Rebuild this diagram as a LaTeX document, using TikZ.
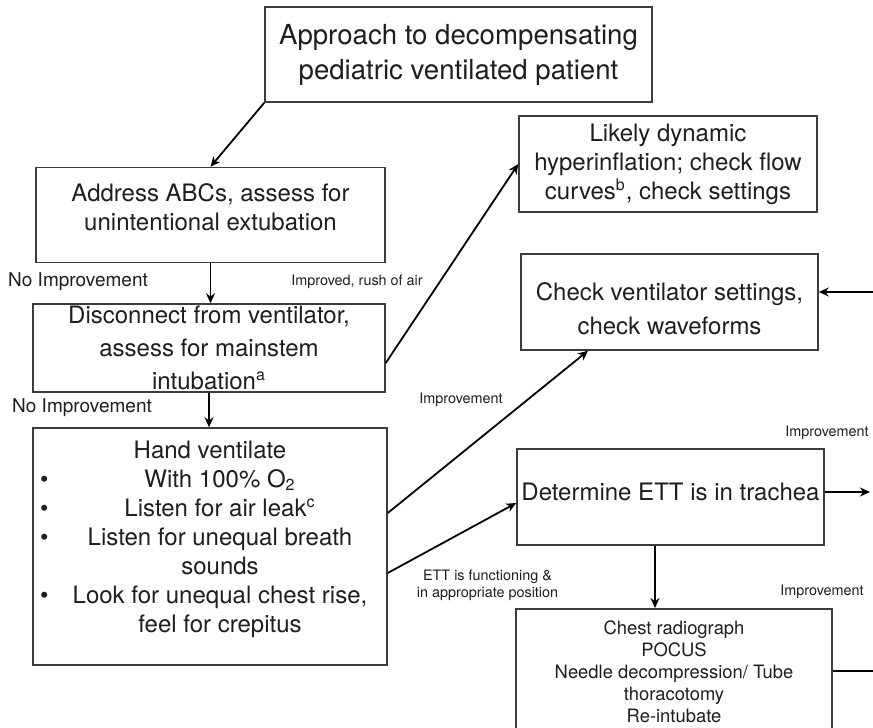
\documentclass[tikz,border=0pt]{standalone}
\usepackage{fontspec}
\setmainfont{TeX Gyre Heros}
\usetikzlibrary{arrows.meta}

\definecolor{boxgray}{HTML}{3C3C3C}
\definecolor{txtgray}{HTML}{1E1E1E}

\tikzset{
  box/.style={draw=boxgray, line width=0.75pt, align=center, inner sep=1pt, text=txtgray,
    font=\fontsize{12}{14.5}\selectfont},
  arr/.style={-{Stealth[length=5pt,width=4.5pt]}, line width=0.9pt},
  lbl/.style={text=txtgray, inner sep=0pt, align=center, font=\fontsize{7.2}{8.5}\selectfont},
  biglbl/.style={text=txtgray, inner sep=0pt, font=\fontsize{9.5}{11}\selectfont},
}

% one bullet line of the hand ventilation box
\newcommand{\bul}[1]{\makebox[10pt][l]{\textbullet}\makebox[160pt]{#1}}

\begin{document}
\begin{tikzpicture}[x=0.5pt,y=-0.5pt]
  \clip (0,0) rectangle (873,728);
  \fill[white] (0,0) rectangle (873,728);

  % boxes
  \node (title) at (458.5,54.5) [box, minimum width=193.5pt, minimum height=47.5pt,
    font=\fontsize{13.8}{17.5}\selectfont] {Approach to decompensating\\pediatric ventilated patient};
  \node (abc) at (210.5,215) [box, minimum width=174.5pt, minimum height=47.5pt]
    {Address ABCs, assess for\\unintentional extubation\rule[-8pt]{0pt}{1pt}};
  \node (disc) at (209,348) [box, minimum width=176pt, minimum height=44pt,
    font=\fontsize{12}{16.5}\selectfont]
    {Disconnect from ventilator,\\assess for mainstem\\intubation\textsuperscript{a}};
  \node (hand) at (210,546.5) [box, minimum width=177pt, minimum height=118.5pt]
    {Hand ventilate\\
     \bul{With 100\% O\textsubscript{2}}\\
     \bul{Listen for air leak\textsuperscript{c}}\\
     \bul{Listen for unequal breath}\\
     \makebox[10pt]{}\makebox[160pt]{sounds}\\
     \bul{Look for unequal chest rise,}\\
     \makebox[10pt]{}\makebox[160pt]{feel for crepitus}\rule[-10pt]{0pt}{1pt}};
  \node (likely) at (668,164) [box, minimum width=149pt, minimum height=48pt]
    {Likely dynamic\\hyperinflation; check flow\\curves\textsuperscript{b}, check settings};
  \node (vent) at (669.5,302) [box, minimum width=148.5pt, minimum height=48pt,
    font=\fontsize{12}{17}\selectfont]
    {\rule{0pt}{15.6pt}Check ventilator settings,\\check waveforms};
  \node (ett) at (670.5,497) [box, minimum width=153.5pt, minimum height=48pt]
    {Determine ETT is in trachea\rule[-5pt]{0pt}{1pt}};
  \node (tests) at (674,608) [box, anchor=north, minimum width=158pt, minimum height=63pt,
    font=\fontsize{9.2}{11}\selectfont]
    {Chest radiograph\\POCUS\\Needle decompression/ Tube\\thoracotomy\\Re-intubate};

  % free ends at the right edge
  \coordinate (inA) at (874,292);
  \coordinate (outA) at (870,492);
  \coordinate (outB) at (874,671);
  \coordinate (ettS) at ([xshift=-7.75pt]ett.south);

  % connectors
  \draw[arr] (title.south west) -- (abc.north);
  \draw[arr] (abc.south) -- (abc.south |- disc.north);
  \draw[arr] (disc.south) -- (disc.south |- hand.north);
  \draw[arr] ([yshift=-7.5pt]disc.east) -- (likely.west);
  \draw[arr] ([yshift=16.75pt]hand.east) -- ([xshift=-40.75pt]vent.south);
  \draw[arr] ([yshift=-13.25pt]hand.east) -- ([yshift=-3pt]ett.west);
  \draw[arr] (inA) -- (inA -| vent.east);
  \draw[arr] (ett.east |- outA) -- (outA);
  \draw[arr] (ettS) -- (ettS |- tests.north);
  \draw[line width=0.9pt] (tests.east |- outB) -- (outB);

  % labels
  \node (noimpA) at (78,282) [biglbl] {No Improvement};
  \node (noimpB) at (82,408) [biglbl] {No Improvement};
  \node (rush) at (357,282) [lbl] {Improved, rush of air};
  \node (impA) at (461,400) [lbl] {Improvement};
  \node (impB) at (827,433) [lbl] {Improvement};
  \node (impC) at (822,592) [lbl] {Improvement};
  \node (funct) at (487.5,585.5) [lbl] {ETT is functioning \&\\in appropriate position};
\end{tikzpicture}
\end{document}
